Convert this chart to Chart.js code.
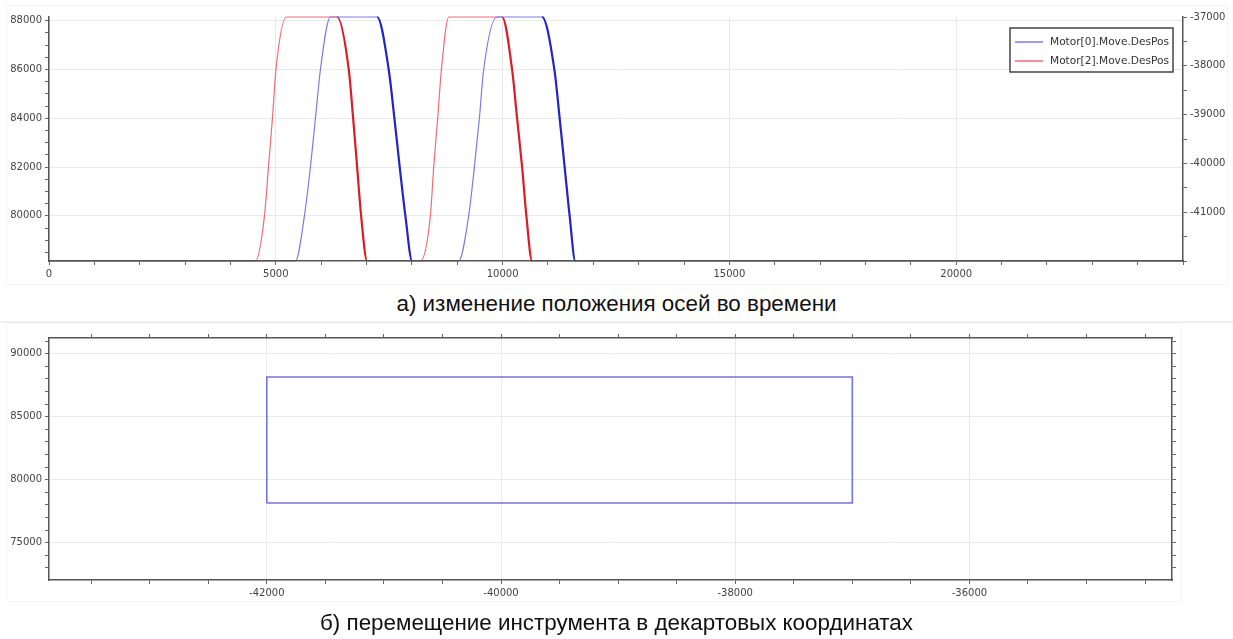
<!DOCTYPE html>
<html>
<head>
<meta charset="utf-8">
<script src="https://cdn.jsdelivr.net/npm/chart.js@4.4.1/dist/chart.umd.min.js"></script>
<style>
body{margin:0;background:#fff;width:1233px;height:639px;overflow:hidden;position:relative;font-family:"Liberation Sans",Arial,sans-serif}
canvas{position:absolute;left:0}
#timeChart{top:0}
#pathChart{top:322px}
.frame{position:absolute;border:1px solid #f4f4f4}
.sep{position:absolute;left:0;top:321px;width:1233px;height:2px;background:#efefef}
.cap{position:absolute;left:0;width:1233px;text-align:center;font-size:22.4px;line-height:26px;color:#111}
</style>
</head>
<body>

<div class="frame" style="left:6px;top:5px;width:1220px;height:278px"></div>
<div class="frame" style="left:6px;top:323px;width:1174px;height:277px"></div>
<div class="sep"></div>

<canvas id="timeChart" width="1233" height="290"></canvas>
<div class="cap" style="top:291px">а) изменение положения осей во времени</div>

<canvas id="pathChart" width="1233" height="290"></canvas>
<div class="cap" style="top:610px">б) перемещение инструмента в декартовых координатах</div>

<script>

/* DATA - time plot */

const timeM0=[0,5433,5631,5763,5874,5984,6204,7234,7489,7615,7732,7857,8005,9032,9252,9378,9488,9583,9878,10870,11141,11258,11368,11478,11604,25000]
const posM0=[78150,78150,80000,82000,84000,86000,88150,88150,86000,84000,82000,80000,78150,78150,80000,82000,84000,86000,88150,88150,86000,84000,82000,80000,78150,78150]

const timeM2=[0,4551,4750,4838,4926,5003,5235,6352,6608,6705,6793,6881,7013,8188,8408,8481,8569,8651,8812,9989,10209,10319,10430,10524,10650,25000]
const posM2=[-42000,-42000,-41075,-40075,-39075,-38075,-37000,-37000,-38075,-39075,-40075,-41075,-42000,-42000,-41075,-40075,-39075,-38075,-37000,-37000,-38075,-39075,-40075,-41075,-42000,-42000]

const timeTicks=[0,5000,10000,15000,20000]
const m0Ticks=[80000,82000,84000,86000,88000]
const m2Ticks=[-41000,-40000,-39000,-38000,-37000]

/* DATA - cartesian path */

const pathX=[-42000,-37000,-37000,-42000,-42000]
const pathY=[78150,78150,88150,88150,78150]

const xTicks=[-42000,-40000,-38000,-36000]
const yTicks=[75000,80000,85000,90000]

/* HELPERS */

const font={family:'"DejaVu Sans"',size:10}

function pairs(xs,ys){
return xs.map((x,i)=>({x:x,y:ys[i]}))
}

function marks(min,max,step){
const out=[]
for(let v=Math.ceil(min/step)*step;v<=max;v+=step) out.push({value:v})
return out
}

function axis(o){
return {
type:'linear',
position:o.pos,
min:o.min,
max:o.max,
afterBuildTicks:s=>{s.ticks=marks(o.min,o.max,o.step)},
afterFit:s=>{if(s.isHorizontal()) s.height=o.size; else s.width=o.size},
border:{display:true,color:'#555',width:1.5,z:1},
grid:{
drawOnChartArea:!!o.grid,
color:c=>(c.tick && o.major.includes(c.tick.value))?'#e9e9e9':'rgba(0,0,0,0)',
tickColor:'#666',
tickLength:4
},
ticks:{
display:!!o.labels,
autoSkip:false,
maxRotation:0,
color:'#444',
font:font,
padding:3,
callback:v=>o.major.includes(v)?String(v):''
}
}
}

const falling=c=>c.p1.parsed.y<c.p0.parsed.y

/* LEGEND BOX */

const legendBox={
id:'legendBox',
afterDraw(chart){
const ctx=chart.ctx
const a=chart.chartArea
const w=163,h=44
const x=a.right-10-w
const y=a.top+11
ctx.save()
ctx.fillStyle='#fff'
ctx.fillRect(x,y,w,h)
ctx.strokeStyle='#444'
ctx.lineWidth=1.5
ctx.strokeRect(x,y,w,h)
chart.data.datasets.forEach((ds,i)=>{
const ly=y+14+i*19
ctx.strokeStyle=ds.borderColor
ctx.lineWidth=1.5
ctx.beginPath()
ctx.moveTo(x+5,ly)
ctx.lineTo(x+33,ly)
ctx.stroke()
ctx.fillStyle='#333'
ctx.font='10.6px "DejaVu Sans"'
ctx.textBaseline='middle'
ctx.fillText(ds.label,x+40,ly)
})
ctx.restore()
}
}

/* TIME CHART */

new Chart(document.getElementById('timeChart'),{
type:'line',
data:{
datasets:[
{
label:'Motor[0].Move.DesPos',
data:pairs(timeM0,posM0),
yAxisID:'y',
borderColor:'#7c7ce4',
borderWidth:1.2,
pointRadius:0,
cubicInterpolationMode:'monotone',
clip:3,
segment:{
borderColor:c=>falling(c)?'#2323c6':undefined,
borderWidth:c=>falling(c)?2.2:undefined
}
},
{
label:'Motor[2].Move.DesPos',
data:pairs(timeM2,posM2),
yAxisID:'y2',
borderColor:'#ec6c76',
borderWidth:1.2,
pointRadius:0,
cubicInterpolationMode:'monotone',
clip:3,
segment:{
borderColor:c=>falling(c)?'#d81c28':undefined,
borderWidth:c=>falling(c)?2.2:undefined
}
}
]
},
options:{
responsive:false,
animation:false,
layout:{padding:{top:17}},
plugins:{legend:{display:false},tooltip:{enabled:false}},
scales:{
x:axis({pos:'bottom',min:0,max:25000,step:1000,major:timeTicks,size:29,grid:true,labels:true}),
y:axis({pos:'left',min:78150,max:88150,step:500,major:m0Ticks,size:49,grid:true,labels:true}),
y2:axis({pos:'right',min:-42000,max:-37000,step:500,major:m2Ticks,size:50,grid:false,labels:true})
}
},
plugins:[legendBox]
})

/* PATH CHART */

new Chart(document.getElementById('pathChart'),{
type:'scatter',
data:{
datasets:[{
label:'path',
data:pairs(pathX,pathY),
showLine:true,
borderColor:'#7474e0',
borderWidth:1.6,
pointRadius:0,
tension:0
}]
},
options:{
responsive:false,
animation:false,
plugins:{legend:{display:false},tooltip:{enabled:false}},
scales:{
x:axis({pos:'bottom',min:-43860,max:-34270,step:500,major:xTicks,size:32,grid:true,labels:true}),
x2:axis({pos:'top',min:-43860,max:-34270,step:500,major:xTicks,size:16,grid:false,labels:false}),
y:axis({pos:'left',min:72040,max:91240,step:1000,major:yTicks,size:49,grid:true,labels:true}),
y2:axis({pos:'right',min:72040,max:91240,step:1000,major:yTicks,size:61,grid:false,labels:false})
}
}
})

</script>
</body>
</html>
